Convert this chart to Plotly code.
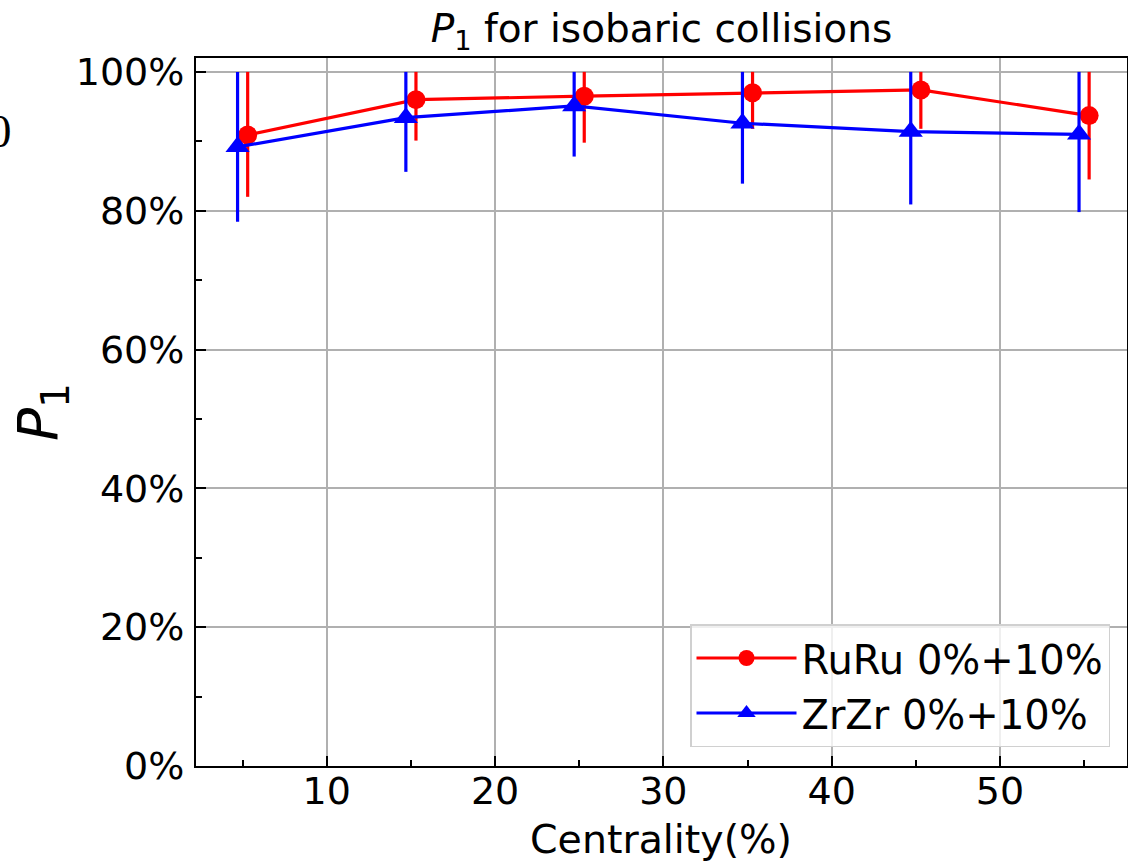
import plotly.graph_objects as go

# ---- data (percent) ----
centrality_ru = [5.3, 15.3, 25.3, 35.3, 45.3, 55.3]
centrality_zr = [4.7, 14.7, 24.7, 34.7, 44.7, 54.7]
p1_ruru = [90.9, 96.0, 96.5, 97.0, 97.4, 93.7]
p1_ruru_low = [82.0, 90.1, 89.8, 91.8, 91.8, 84.5]
p1_zrzr = [89.2, 93.4, 95.1, 92.6, 91.4, 91.0]
p1_zrzr_low = [78.4, 85.6, 87.8, 83.9, 80.9, 79.8]
upper_cap = 100.0

x_ticks = [10, 20, 30, 40, 50]
y_ticks = [0, 20, 40, 60, 80, 100]

FONT = "DejaVu Sans"

def err_up(vals):
    return [upper_cap - v for v in vals]

def err_down(vals, lows):
    return [v - l for v, l in zip(vals, lows)]

fig = go.Figure()
fig.add_trace(go.Scatter(
    x=centrality_ru, y=p1_ruru, mode="lines+markers", name="RuRu 0%+10%",
    line=dict(color="#ff0000", width=3.2),
    marker=dict(symbol="circle", size=19, color="#ff0000"),
    error_y=dict(type="data", array=err_up(p1_ruru),
                 arrayminus=err_down(p1_ruru, p1_ruru_low),
                 color="#ff0000", thickness=3.2, width=0),
))
fig.add_trace(go.Scatter(
    x=centrality_zr, y=p1_zrzr, mode="lines+markers", name="ZrZr 0%+10%",
    line=dict(color="#0000ff", width=3.2),
    marker=dict(symbol="triangle-up", size=21, color="#0000ff"),
    error_y=dict(type="data", array=err_up(p1_zrzr),
                 arrayminus=err_down(p1_zrzr, p1_zrzr_low),
                 color="#0000ff", thickness=3.2, width=0),
))

W, H = 1128, 863
L, R, T, B = 196, 1, 58, 97
pw, ph = W - L - R, H - T - B

fig.update_layout(
    width=W, height=H,
    margin=dict(l=L, r=R, t=T, b=B, autoexpand=False),
    paper_bgcolor="white", plot_bgcolor="white",
    font=dict(family=FONT, color="black", size=38),
    title=dict(text="<i>P</i><sub>1</sub> for isobaric collisions",
               x=0.5, xref="paper", xanchor="center",
               y=1 - 28 / H, yref="container", yanchor="middle",
               font=dict(size=39, family=FONT)),
    showlegend=True,
    legend=dict(x=(1110 - L) / pw, xanchor="right",
                y=(H - B - 747) / ph, yanchor="bottom",
                bgcolor="rgba(255,255,255,0.8)", bordercolor="#d0d0d0",
                borderwidth=1.5, font=dict(size=40, family=FONT),
                itemwidth=100, tracegroupgap=0),
)

fig.update_xaxes(
    range=[2.23, 57.55], tickvals=x_ticks, ticktext=[str(v) for v in x_ticks],
    showgrid=True, gridcolor="#b0b0b0", gridwidth=1.5,
    showline=True, linecolor="black", linewidth=2, mirror=True,
    ticks="inside", ticklen=10, tickwidth=1.5, tickcolor="black",
    minor=dict(dtick=5, tick0=0, ticks="inside", ticklen=6, tickwidth=1.5,
               tickcolor="black", showgrid=False),
    tickfont=dict(size=38, family=FONT), ticklabelstandoff=-10,
    zeroline=False, automargin=False,
)
fig.update_yaxes(
    range=[0, 102], tickvals=y_ticks, ticktext=[f"{v}%" for v in y_ticks],
    showgrid=True, gridcolor="#b0b0b0", gridwidth=1.5,
    showline=True, linecolor="black", linewidth=2, mirror=True,
    ticks="inside", ticklen=10, tickwidth=1.5, tickcolor="black",
    minor=dict(dtick=10, tick0=0, ticks="inside", ticklen=6, tickwidth=1.5,
               tickcolor="black", showgrid=False),
    tickfont=dict(size=38, family=FONT), ticklabelstandoff=2,
    zeroline=False, automargin=False,
)

# x-axis label
fig.add_annotation(
    text="Centrality(%)", showarrow=False, borderpad=0,
    xref="paper", yref="paper", x=(661 - L) / pw, y=(H - B - 839) / ph,
    xanchor="center", yanchor="middle",
    font=dict(size=39.5, family=FONT),
)
# y-axis label
fig.add_annotation(
    text="<i>P</i><sub>1</sub>", textangle=-90, showarrow=False,
    xref="paper", yref="paper", x=(42 - L) / pw, y=(H - B - 412) / ph,
    xanchor="center", yanchor="middle",
    font=dict(size=55, family=FONT),
)
# cut-off glyph at the left edge of the reference
fig.add_annotation(
    text="0", showarrow=False, xref="paper", yref="paper",
    x=(0 - L) / pw, y=(H - B - 131) / ph, xanchor="center", yanchor="middle",
    font=dict(size=47, family="Liberation Serif"),
)

fig.write_html("out.html")
